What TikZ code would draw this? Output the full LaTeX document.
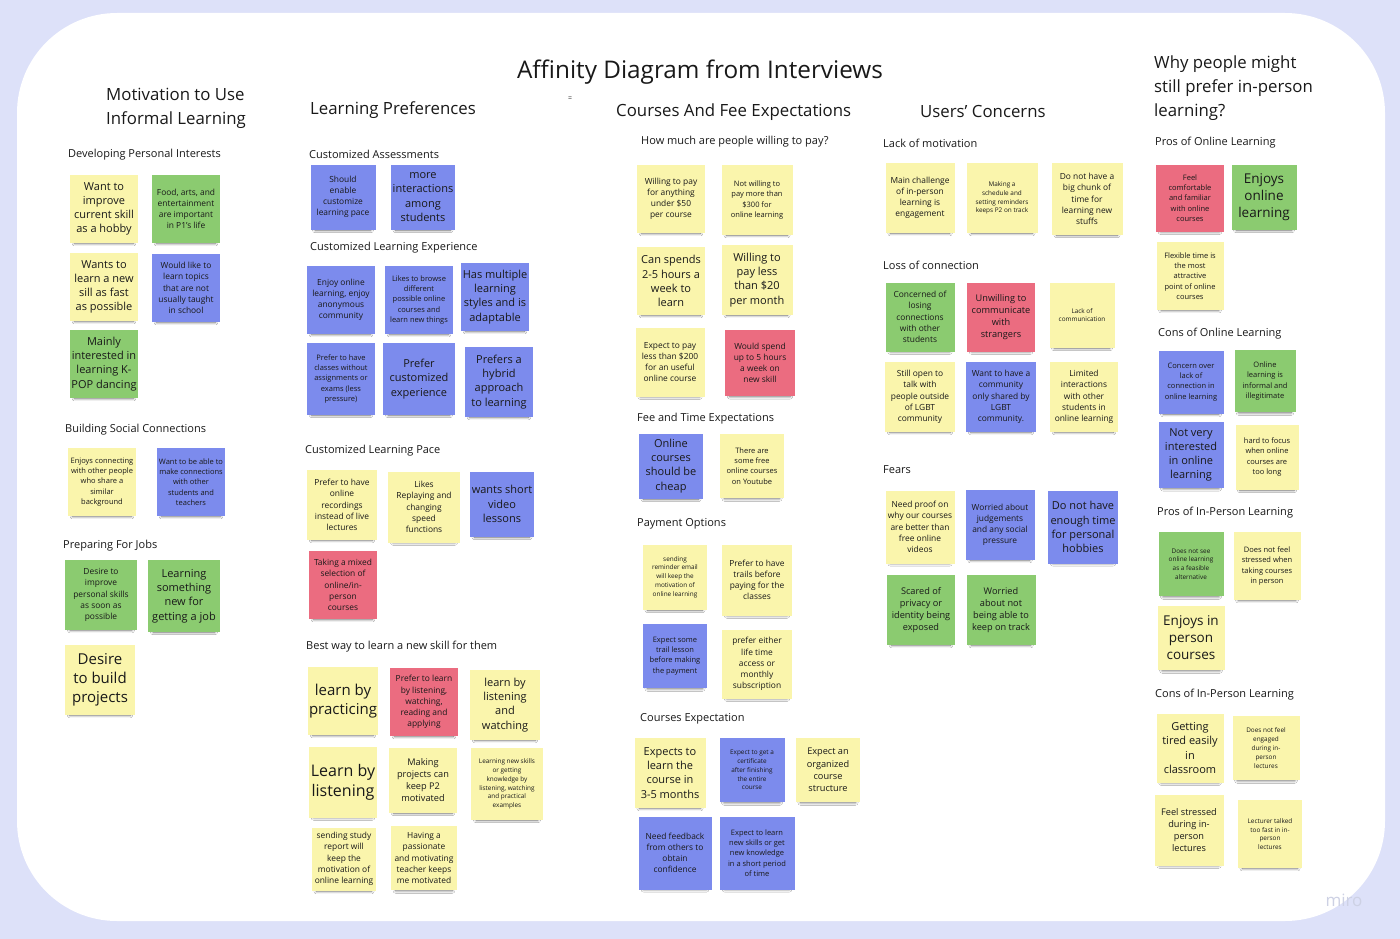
\documentclass[tikz,border=0pt]{standalone}
\usepackage{fontspec}
\setmainfont{Open Sans}
\usepackage{tikz}
\usetikzlibrary{shadows.blur}
\usepackage{xcolor}

\definecolor{boardbg}{RGB}{221,225,249}
\definecolor{stickyyellow}{RGB}{250,245,172}
\definecolor{stickygreen}{RGB}{139,203,112}
\definecolor{stickyblue}{RGB}{124,139,237}
\definecolor{stickypink}{RGB}{235,108,128}
\definecolor{inktext}{RGB}{25,25,25}
\definecolor{logogray}{RGB}{205,209,228}

\tikzset{
  sticky/.style={rectangle, minimum width=68pt, minimum height=68pt,
    inner sep=1pt, align=center, text=inktext,
    blur shadow={shadow xshift=0pt, shadow yshift=-6pt, shadow scale=0.86,
      shadow blur radius=3pt, shadow opacity=60, shadow blur steps=6}},
  ylw/.style={sticky, fill=stickyyellow},
  grn/.style={sticky, fill=stickygreen},
  blu/.style={sticky, fill=stickyblue},
  pnk/.style={sticky, fill=stickypink},
  txs/.style={font=\fontsize{6.4}{8.8}\selectfont},
  ts/.style={font=\fontsize{7.5}{10.2}\selectfont},
  tm/.style={font=\fontsize{8.4}{11.2}\selectfont},
  tn/.style={font=\fontsize{9.2}{12.2}\selectfont},
  tl/.style={font=\fontsize{11}{14.2}\selectfont},
  tx/.style={font=\fontsize{13.5}{17}\selectfont},
  txl/.style={font=\fontsize{15}{19}\selectfont},
  grouplabel/.style={anchor=west, inner sep=0pt, text=inktext,
    font=\fontsize{11}{13}\selectfont},
  columnlabel/.style={anchor=west, inner sep=0pt, align=left, text=inktext,
    font=\fontsize{16.8}{24}\selectfont}
}

\begin{document}
\begin{tikzpicture}[x=1pt, y=-1pt]

    % board
    \useasboundingbox (0,0) rectangle (1400,939);
    \fill[boardbg] (0,0) rectangle (1400,939);
    \fill[white, rounded corners=100pt] (17,13) rectangle (1385,921);

    % title
    \node[text=inktext, font=\fontsize{24.3}{28}\selectfont] (title) at (700,72) {Affinity Diagram from Interviews};
    \node[text=inktext, font=\fontsize{7}{8}\selectfont] (eqmark) at (570,99) {=};
    \node[text=logogray, font=\fontsize{17}{20}\selectfont] (logo) at (1344,900) {miro};

    % --- Motivation to Use Informal Learning
    \node[columnlabel] (motcol) at (106,108) {Motivation to Use\\Informal Learning};
    \node[grouplabel] (motg1) at (68,155) {Developing Personal Interests};
    \node[ylw, tl] (mot1) at (104,209) {Want to\\improve\\current skill\\as a hobby};
    \node[grn, tm] (mot2) at (186,209) {Food, arts, and\\entertainment\\are important\\in P1's life};
    \node[ylw, tl] (mot3) at (104,287) {Wants to\\learn a new\\sill as fast\\as possible};
    \node[blu, tm] (mot4) at (186,288) {Would like to\\learn topics\\that are not\\usually taught\\in school};
    \node[grn, tl] (mot5) at (104,364) {Mainly\\interested in\\learning K-\\POP dancing};
    \node[grouplabel] (motg2) at (65,430) {Building Social Connections};
    \node[ylw, ts] (mot6) at (102,482) {Enjoys connecting\\with other people\\who share a\\similar\\background};
    \node[blu, ts] (mot7) at (191,482) {Want to be able to\\make connections\\with other\\students and\\teachers};
    \node[grouplabel] (motg3) at (63,546) {Preparing For Jobs};
    \node[grn, tm, minimum width=72pt, minimum height=70pt] (mot8) at (101,595) {Desire to\\improve\\personal skills\\as soon as\\possible};
    \node[grn, tl, minimum width=72pt, minimum height=72pt] (mot9) at (184,596) {Learning\\something\\new for\\getting a job};
    \node[ylw, txl, minimum width=70pt, minimum height=70pt] (mot10) at (100,680) {Desire\\to build\\projects};

    % --- Learning Preferences
    \node[columnlabel] (prefcol) at (310,110) {Learning Preferences};
    \node[grouplabel] (prefg1) at (309,154) {Customized Assessments};
    \node[blu, tm, minimum width=65pt, minimum height=65pt] (pref1) at (343,197) {Should\\enable\\customize\\learning pace};
    \node[blu, tl, minimum width=64pt, minimum height=65pt] (pref2) at (423,197) {more\\interactions\\among\\students};
    \node[grouplabel] (prefg2) at (310,248) {Customized Learning Experience};
    \node[blu, tm] (pref3) at (341,300) {Enjoy online\\learning, enjoy\\anonymous\\community};
    \node[blu, ts] (pref4) at (419,300) {Likes to browse\\different\\possible online\\courses and\\learn new things};
    \node[blu, tl] (pref5) at (495,297) {Has multiple\\learning\\styles and is\\adaptable};
    \node[blu, ts, minimum height=72pt] (pref6) at (341,379) {Prefer to have\\classes without\\assignments or\\exams (less\\pressure)};
    \node[blu, tl, minimum width=72pt, minimum height=72pt] (pref7) at (419,379) {Prefer\\customized\\experience};
    \node[blu, tl, minimum height=70pt] (pref8) at (499,382) {Prefers a\\hybrid\\approach\\to learning};
    \node[grouplabel] (prefg3) at (305,451) {Customized Learning Pace};
    \node[ylw, tm, minimum width=70pt, minimum height=70pt] (pref9) at (342,505) {Prefer to have\\online\\recordings\\instead of live\\lectures};
    \node[ylw, tm, minimum width=72pt, minimum height=71pt] (pref10) at (424,507) {Likes\\Replaying and\\changing\\speed\\functions};
    \node[blu, tl, minimum width=64pt, minimum height=65pt] (pref11) at (502,504) {wants short\\video\\lessons};
    \node[pnk, tm] (pref12) at (343,585) {Taking a mixed\\selection of\\online/in-\\person\\courses};
    \node[grouplabel] (prefg4) at (306,647) {Best way to learn a new skill for them};
    \node[ylw, txl] (pref13) at (343,701) {learn by\\practicing};
    \node[pnk, tm] (pref14) at (424,702) {Prefer to learn\\by listening,\\watching,\\reading and\\applying};
    \node[ylw, tl, minimum width=70pt, minimum height=70pt] (pref15) at (505,705) {learn by\\listening\\and\\watching};
    \node[ylw, txl, minimum height=71pt, font=\fontsize{16}{20}\selectfont] (pref16) at (343,782) {Learn by\\listening};
    \node[ylw, tn, minimum height=65pt] (pref17) at (423,780) {Making\\projects can\\keep P2\\motivated};
    \node[ylw, txs, minimum width=72pt, minimum height=72pt] (pref18) at (507,784) {Learning new skills\\or getting\\knowledge by\\listening, watching\\and practical\\examples};
    \node[ylw, tm, minimum width=64pt, minimum height=63pt] (pref19) at (344,859) {sending study\\report will\\keep the\\motivation of\\online learning};
    \node[ylw, tm, minimum width=66pt, minimum height=64pt] (pref20) at (424,858) {Having a\\passionate\\and motivating\\teacher keeps\\me motivated};

    % --- Courses And Fee Expectations
    \node[columnlabel] (feecol) at (616,112) {Courses And Fee Expectations};
    \node[grouplabel] (feeg1) at (641,142) {How much are people willing to pay?};
    \node[ylw, tm] (fee1) at (671,199) {Willing to pay\\for anything\\under \$50\\per course};
    \node[ylw, ts, minimum width=71pt, minimum height=70pt] (fee2) at (757,200) {Not willing to\\pay more than\\\$300 for\\online learning};
    \node[ylw, tl] (fee3) at (671,281) {Can spends\\2-5 hours a\\week to\\learn};
    \node[ylw, tl, minimum width=71pt, minimum height=70pt] (fee4) at (757,280) {Willing to\\pay less\\than \$20\\per month};
    \node[ylw, tm, minimum width=69pt, minimum height=69pt] (fee5) at (670,362) {Expect to pay\\less than \$200\\for an useful\\online course};
    \node[pnk, tm, minimum width=70pt, minimum height=66pt] (fee6) at (760,363) {Would spend\\up to 5 hours\\a week on\\new skill};
    \node[grouplabel] (feeg2) at (637,419) {Fee and Time Expectations};
    \node[blu, tl, minimum width=64pt, minimum height=65pt] (fee7) at (671,466) {Online\\courses\\should be\\cheap};
    \node[ylw, ts, minimum width=64pt, minimum height=64pt] (fee8) at (752,466) {There are\\some free\\online courses\\on Youtube};
    \node[grouplabel] (feeg3) at (637,524) {Payment Options};
    \node[ylw, txs, minimum width=64pt, minimum height=65pt] (fee9) at (675,577) {sending\\reminder email\\will keep the\\motivation of\\online learning};
    \node[ylw, tm, minimum width=70pt, minimum height=71pt] (fee10) at (757,580) {Prefer to have\\trails before\\paying for the\\classes};
    \node[blu, ts, minimum width=64pt, minimum height=64pt] (fee11) at (675,656) {Expect some\\trail lesson\\before making\\the payment};
    \node[ylw, tm, minimum width=70pt, minimum height=69pt] (fee12) at (757,664) {prefer either\\life time\\access or\\monthly\\subscription};
    \node[grouplabel] (feeg4) at (640,719) {Courses Expectation};
    \node[ylw, tl, minimum width=71pt, minimum height=70pt] (fee13) at (670,773) {Expects to\\learn the\\course in\\3-5 months};
    \node[blu, txs, minimum width=65pt, minimum height=64pt] (fee14) at (752,770) {Expect to get a\\certificate\\after finishing\\the entire\\course};
    \node[ylw, tn, minimum width=64pt, minimum height=64pt] (fee15) at (828,770) {Expect an\\organized\\course\\structure};
    \node[blu, tm, minimum width=73pt, minimum height=73pt] (fee16) at (675,853) {Need feedback\\from others to\\obtain\\confidence};
    \node[blu, ts, minimum width=75pt, minimum height=73pt] (fee17) at (757,853) {Expect to learn\\new skills or get\\new knowledge\\in a short period\\of time};

    % --- Users' Concerns
    \node[columnlabel] (conccol) at (920,112) {Users' Concerns};
    \node[grouplabel] (concg1) at (883,143) {Lack of motivation};
    \node[ylw, tm, minimum width=69pt, minimum height=70pt] (conc1) at (920,198) {Main challenge\\of in-person\\learning is\\engagement};
    \node[ylw, txs, minimum width=71pt, minimum height=70pt] (conc2) at (1002,198) {Making a\\schedule and\\setting reminders\\keeps P2 on track};
    \node[ylw, tm, minimum width=71pt, minimum height=72pt] (conc3) at (1087,199) {Do not have a\\big chunk of\\time for\\learning new\\stuffs};
    \node[grouplabel] (concg2) at (883,265) {Loss of connection};
    \node[grn, tm, minimum width=69pt, minimum height=69pt] (conc4) at (920,317) {Concerned of\\losing\\connections\\with other\\students};
    \node[pnk, tn, minimum width=68pt, minimum height=69pt] (conc5) at (1001,317) {Unwilling to\\communicate\\with\\strangers};
    \node[ylw, txs, minimum width=65pt, minimum height=65pt] (conc6) at (1082,315) {Lack of\\communication};
    \node[ylw, tm, minimum width=70pt, minimum height=70pt] (conc7) at (920,397) {Still open to\\talk with\\people outside\\of LGBT\\community};
    \node[blu, tm, minimum width=70pt, minimum height=70pt] (conc8) at (1001,397) {Want to have a\\community\\only shared by\\LGBT\\community.};
    \node[ylw, tm, minimum width=68pt, minimum height=70pt] (conc9) at (1084,397) {Limited\\interactions\\with other\\students in\\online learning};
    \node[grouplabel] (concg3) at (883,470) {Fears};
    \node[ylw, tm, minimum width=69pt, minimum height=73pt] (conc10) at (920,527) {Need proof on\\why our courses\\are better than\\free online\\videos};
    \node[blu, tm, minimum width=69pt, minimum height=70pt] (conc11) at (1000,525) {Worried about\\judgements\\and any social\\pressure};
    \node[blu, tl, minimum width=70pt, minimum height=73pt] (conc12) at (1083,527) {Do not have\\enough time\\for personal\\hobbies};
    \node[grn, tn, minimum width=68pt, minimum height=70pt] (conc13) at (921,610) {Scared of\\privacy or\\identity being\\exposed};
    \node[grn, tn, minimum width=69pt, minimum height=70pt] (conc14) at (1001,610) {Worried\\about not\\being able to\\keep on track};

    % --- Why people might still prefer in-person learning?
    \node[columnlabel] (whycol) at (1154,88) {Why people might\\still prefer in-person\\learning?};
    \node[grouplabel] (whyg1) at (1155,143) {Pros of Online Learning};
    \node[pnk, ts, minimum width=68pt, minimum height=67pt] (why1) at (1190,198) {Feel\\comfortable\\and familiar\\with online\\courses};
    \node[grn, tx, minimum width=65pt, minimum height=65pt] (why2) at (1264,197) {Enjoys\\online\\learning};
    \node[ylw, ts, minimum width=67pt, minimum height=68pt] (why3) at (1190,276) {Flexible time is\\the most\\attractive\\point of online\\courses};
    \node[grouplabel] (whyg2) at (1158,334) {Cons of Online Learning};
    \node[blu, ts, minimum width=65pt, minimum height=63pt] (why4) at (1191,382) {Concern over\\lack of\\connection in\\online learning};
    \node[grn, ts, minimum width=61pt, minimum height=62pt] (why5) at (1265,381) {Online\\learning is\\informal and\\illegitimate};
    \node[blu, tl, minimum width=65pt, minimum height=66pt] (why6) at (1191,455) {Not very\\interested\\in online\\learning};
    \node[ylw, ts, minimum width=63pt, minimum height=65pt] (why7) at (1267,457) {hard to focus\\when online\\courses are\\too long};
    \node[grouplabel] (whyg3) at (1157,513) {Pros of In-Person Learning};
    \node[grn, txs, minimum width=65pt, minimum height=64pt] (why8) at (1191,564) {Does not see\\online learning\\as a feasible\\alternative};
    \node[ylw, ts, minimum width=67pt, minimum height=68pt] (why9) at (1267,566) {Does not feel\\stressed when\\taking courses\\in person};
    \node[ylw, tx, minimum width=67pt, minimum height=64pt] (why10) at (1191,638) {Enjoys in\\person\\courses};
    \node[grouplabel] (whyg4) at (1155,695) {Cons of In-Person Learning};
    \node[ylw, tl, minimum width=67pt, minimum height=69pt] (why11) at (1190,748) {Getting\\tired easily\\in\\classroom};
    \node[ylw, txs, minimum width=67pt, minimum height=64pt] (why12) at (1266,748) {Does not feel\\engaged\\during in-\\person\\lectures};
    \node[ylw, tn, minimum width=69pt, minimum height=71pt] (why13) at (1189,830) {Feel stressed\\during in-\\person\\lectures};
    \node[ylw, txs, minimum width=64pt, minimum height=68pt] (why14) at (1270,834) {Lecturer talked\\too fast in in-\\person\\lectures};

\end{tikzpicture}
\end{document}
